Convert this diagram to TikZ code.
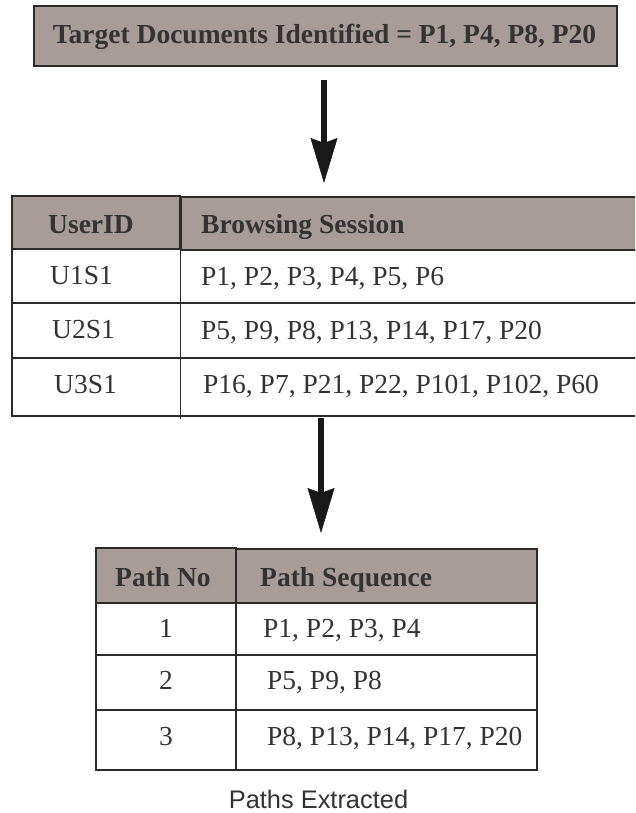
\documentclass[tikz,border=0pt]{standalone}
\usepackage{fontspec}
\setmainfont{Liberation Serif}
\newfontfamily\captionsans{Liberation Sans}
\usetikzlibrary{arrows.meta}
\definecolor{headfill}{HTML}{A89C98}
\definecolor{ink}{HTML}{333333}
\definecolor{rule}{HTML}{2B2B2B}
\begin{document}
\begin{tikzpicture}[x=1pt,y=-1pt,
  txt/.style={inner sep=0pt, anchor=base west, text=ink,
    font=\fontsize{27.5}{33}\selectfont},
  hd/.style={txt, font=\fontsize{27.5}{33}\selectfont\bfseries},
  cellbox/.style={draw=rule, line width=1.3pt},
  headbox/.style={cellbox, fill=headfill},
  flow/.style={draw=black!90, line width=6.5pt,
    -{Stealth[length=45pt,width=27pt,inset=5pt,line width=0.5pt]}}]
\useasboundingbox (0,0) rectangle (635,813);
\clip (0,0) rectangle (635,813);

% title box
\draw[headbox, line width=2.2pt] (34,6) rectangle (617,66);
\node[hd, anchor=base] (target) at (324.5,44)
  {Target Documents Identified = P1, P4, P8, P20};

% browsing sessions table (runs off the right edge)
\draw[headbox] (12,196) rectangle (180,249);
\draw[headbox] (181,197) rectangle (660,250);
\draw[cellbox] (12,249) rectangle (180.5,303);
\draw[cellbox] (12,303) rectangle (180.5,358);
\draw[cellbox] (12,358) rectangle (180.5,416);
\draw[cellbox] (180.5,250) rectangle (660,303);
\draw[cellbox] (180.5,303) rectangle (660,358);
\draw[cellbox] (180.5,358) rectangle (660,416);
\draw[cellbox] (180.5,416) -- (180.5,419);

\node[hd] (userid) at (48,233) {UserID};
\node[hd] (session) at (201,233) {Browsing Session};
\node[txt] (u1) at (50,284) {U1S1};
\node[txt] (u2) at (52,338) {U2S1};
\node[txt] (u3) at (54,393) {U3S1};
\node[txt] (s1) at (201,285) {P1, P2, P3, P4, P5, P6};
\node[txt] (s2) at (201,339) {P5, P9, P8, P13, P14, P17, P20};
\node[txt] (s3) at (203,393) {P16, P7, P21, P22, P101, P102, P60};

% extracted paths table
\draw[headbox] (96,548) rectangle (236,603);
\draw[headbox] (236,549) rectangle (537,603);
\draw[cellbox] (96,603) rectangle (236,655);
\draw[cellbox] (96,655) rectangle (236,710);
\draw[cellbox] (96,710) rectangle (236,770);
\draw[cellbox] (236,603) rectangle (537,655);
\draw[cellbox] (236,655) rectangle (537,710);
\draw[cellbox] (236,710) rectangle (537,770);

\node[hd] (pathno) at (115,586) {Path No};
\node[hd] (pathseq) at (260,586) {Path Sequence};
\node[txt, anchor=base] (n1) at (166,637) {1};
\node[txt, anchor=base] (n2) at (166,689) {2};
\node[txt, anchor=base] (n3) at (166,745) {3};
\node[txt] (q1) at (263,637) {P1, P2, P3, P4};
\node[txt] (q2) at (267,689) {P5, P9, P8};
\node[txt] (q3) at (267,745) {P8, P13, P14, P17, P20};

\node[inner sep=0pt, anchor=base, text=ink,
  font=\captionsans\fontsize{25.4}{30}\selectfont] (caption) at (318.5,808)
  {Paths Extracted};

% flow arrows between the stages
\coordinate (a1s) at (324,80);
\coordinate (a1e) at (324,183);
\coordinate (a2s) at (321,418);
\coordinate (a2e) at (321,533);
\draw[flow] (a1s) -- (a1e);
\draw[flow] (a2s) -- (a2e);
\end{tikzpicture}
\end{document}
